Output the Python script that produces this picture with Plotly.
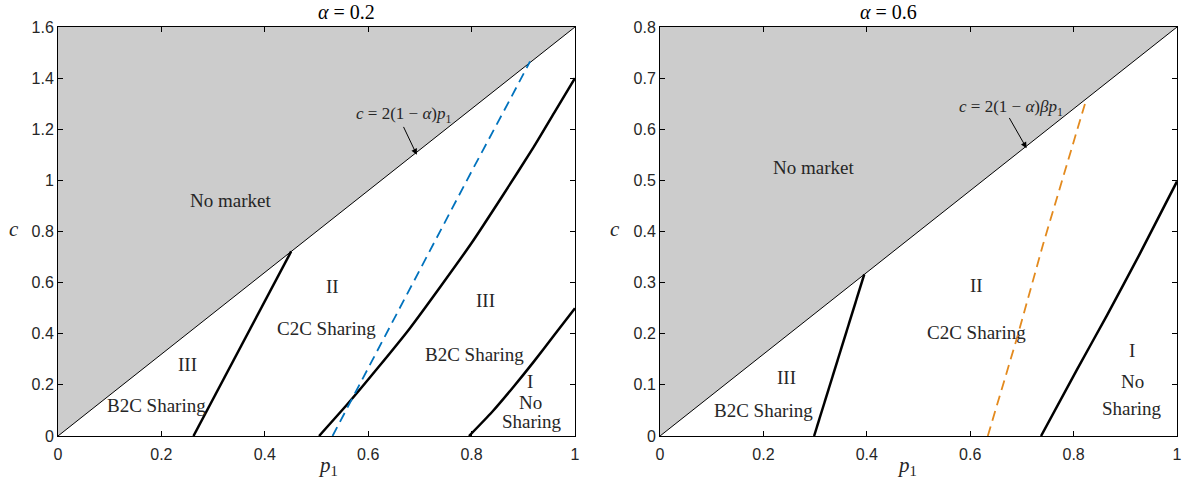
import plotly.graph_objects as go

# ---------- data ----------
# Left panel: alpha = 0.2
L_bound_p = [0, 1]
L_bound_c = [0, 1.6]
L_line1_p = [0.262, 0.451]
L_line1_c = [0.0, 0.722]
L_curve2_p = [0.505, 0.56, 0.62, 0.68, 0.74, 0.80, 0.86, 0.92, 0.96, 1.0]
L_curve2_c = [0.0, 0.125, 0.27, 0.42, 0.585, 0.755, 0.94, 1.13, 1.265, 1.40]
L_curve3_p = [0.795, 0.84, 0.88, 0.92, 0.96, 1.0]
L_curve3_c = [0.0, 0.095, 0.19, 0.29, 0.395, 0.50]
L_dash_p = [0.531, 0.636, 0.694, 0.80, 0.874, 0.913]
L_dash_c = [0.0, 0.405, 0.628, 1.035, 1.315, 1.465]

# Right panel: alpha = 0.6
R_bound_p = [0, 1]
R_bound_c = [0, 0.8]
R_line1_p = [0.298, 0.395]
R_line1_c = [0.0, 0.316]
R_curve3_p = [0.737, 0.806, 0.864, 0.93, 1.0]
R_curve3_c = [0.0, 0.129, 0.235, 0.36, 0.498]
R_dash_p = [0.634, 0.69, 0.741, 0.79, 0.825]
R_dash_c = [0.0, 0.19, 0.375, 0.54, 0.66]

L_labels = [("No market", 0.333, 0.92), ("II", 0.53, 0.583), ("C2C Sharing", 0.52, 0.42),
            ("III", 0.826, 0.53), ("B2C Sharing", 0.805, 0.317), ("I", 0.913, 0.215),
            ("No", 0.913, 0.13), ("Sharing", 0.917, 0.055), ("III", 0.251, 0.278),
            ("B2C Sharing", 0.19, 0.121)]
R_labels = [("No market", 0.296, 0.526), ("II", 0.613, 0.295), ("C2C Sharing", 0.613, 0.203),
            ("III", 0.244, 0.115), ("B2C Sharing", 0.2, 0.05), ("I", 0.913, 0.168),
            ("No", 0.913, 0.106), ("Sharing", 0.913, 0.053)]

L_xticks = [0, 0.2, 0.4, 0.6, 0.8, 1]
L_yticks = [0, 0.2, 0.4, 0.6, 0.8, 1, 1.2, 1.4, 1.6]
R_yticks = [0, 0.1, 0.2, 0.3, 0.4, 0.5, 0.6, 0.7, 0.8]

SERIF = "Liberation Serif, Times New Roman, serif"
SANS = "Liberation Sans, Arial, sans-serif"
GREY = "#cccccc"
TXT = "#262626"

fig = go.Figure()

def panel(xa, ya, bp, bc, ymax, lines, dash_p, dash_c, dash_col):
    fig.add_trace(go.Scatter(x=[bp[0], bp[1], bp[0], bp[0]], y=[bc[0], bc[1], ymax, bc[0]],
                             fill="toself", fillcolor=GREY, mode="none",
                             xaxis=xa, yaxis=ya, showlegend=False, hoverinfo="skip"))
    fig.add_trace(go.Scatter(x=bp, y=bc, mode="lines", line=dict(color="black", width=1),
                             xaxis=xa, yaxis=ya, showlegend=False))
    for p, c in lines:
        fig.add_trace(go.Scatter(x=p, y=c, mode="lines", line=dict(color="black", width=2.5, shape="spline", smoothing=0.6),
                                 xaxis=xa, yaxis=ya, showlegend=False))
    fig.add_trace(go.Scatter(x=dash_p, y=dash_c, mode="lines",
                             line=dict(color=dash_col, width=1.8, dash="10px,6px"),
                             xaxis=xa, yaxis=ya, showlegend=False))

panel("x", "y", L_bound_p, L_bound_c, 1.6,
      [(L_line1_p, L_line1_c), (L_curve2_p, L_curve2_c), (L_curve3_p, L_curve3_c)],
      L_dash_p, L_dash_c, "#0072BD")
panel("x2", "y2", R_bound_p, R_bound_c, 0.8,
      [(R_line1_p, R_line1_c), (R_curve3_p, R_curve3_c)],
      R_dash_p, R_dash_c, "#E38A1E")

ann = []
for t, px, py in L_labels:
    ann.append(dict(x=px, y=py, xref="x", yref="y", text=t, showarrow=False,
                    font=dict(family=SERIF, size=19, color=TXT)))
for t, px, py in R_labels:
    ann.append(dict(x=px, y=py, xref="x2", yref="y2", text=t, showarrow=False,
                    font=dict(family=SERIF, size=19, color=TXT)))

# formula labels with arrows
ann.append(dict(x=0.670, y=1.256, xref="x", yref="y", showarrow=False,
                text="<i>c</i> = 2(1 − <i>α</i>)<i>p</i><sub>1</sub>",
                font=dict(family=SERIF, size=17, color=TXT)))
ann.append(dict(x=0.694, y=1.10, ax=0.667, ay=1.215, xref="x", yref="y", axref="x", ayref="y",
                text="", showarrow=True, arrowhead=2, arrowsize=1.2, arrowwidth=1, arrowcolor="black"))
ann.append(dict(x=0.679, y=0.641, xref="x2", yref="y2", showarrow=False,
                text="<i>c</i> = 2(1 − <i>α</i>)<i>βp</i><sub>1</sub>",
                font=dict(family=SERIF, size=17, color=TXT)))
ann.append(dict(x=0.709, y=0.563, ax=0.674, ay=0.625, xref="x2", yref="y2", axref="x2", ayref="y2",
                text="", showarrow=True, arrowhead=2, arrowsize=1.2, arrowwidth=1, arrowcolor="black"))

# titles
for xp, t in [(0.231, "<i>α</i> = 0.2"), (0.769, "<i>α</i> = 0.6")]:
    ann.append(dict(x=xp, y=1.0367, xref="paper", yref="paper", yanchor="middle",
                    text=t, showarrow=False, font=dict(family=SERIF, size=20, color="black")))
# axis titles
for xp in [0.231, 0.769]:
    ann.append(dict(x=xp, y=-0.073, xref="paper", yref="paper", yanchor="middle",
                    text="<i>p</i><sub>1</sub>", showarrow=False,
                    font=dict(family=SERIF, size=21, color=TXT)))
for xp in [-0.039, 0.4978]:
    ann.append(dict(x=xp, y=0.506, xref="paper", yref="paper", yanchor="middle", xanchor="center",
                    text="<i>c</i>", showarrow=False,
                    font=dict(family=SERIF, size=21, color=TXT)))

fig.update_layout(annotations=ann)

axis_common = dict(showgrid=False, zeroline=False, showline=True, linecolor="black", linewidth=1,
                   mirror="ticks", ticks="inside", ticklen=5, tickcolor="black", automargin=False,
                   tickfont=dict(family=SANS, size=16, color=TXT))

fig.update_layout(
    width=1191, height=485,
    margin=dict(l=58, r=14, t=27, b=49),
    plot_bgcolor="white", paper_bgcolor="white",
    xaxis=dict(domain=[0, 0.462], range=[0, 1], tickvals=L_xticks, ticklabelstandoff=4,
               ticktext=[f"{v:g}" for v in L_xticks], **axis_common),
    yaxis=dict(range=[0, 1.6], tickvals=L_yticks, ticktext=[f"{v:g}" for v in L_yticks],
               **axis_common),
    xaxis2=dict(domain=[0.538, 1], range=[0, 1], tickvals=L_xticks, ticklabelstandoff=4,
                ticktext=[f"{v:g}" for v in L_xticks], anchor="y2", **axis_common),
    yaxis2=dict(range=[0, 0.8], tickvals=R_yticks, ticktext=[f"{v:g}" for v in R_yticks],
                anchor="x2", **axis_common),
)

fig.write_html("out.html", config={"displayModeBar": False},
               post_script="document.body.style.margin='0px';")
